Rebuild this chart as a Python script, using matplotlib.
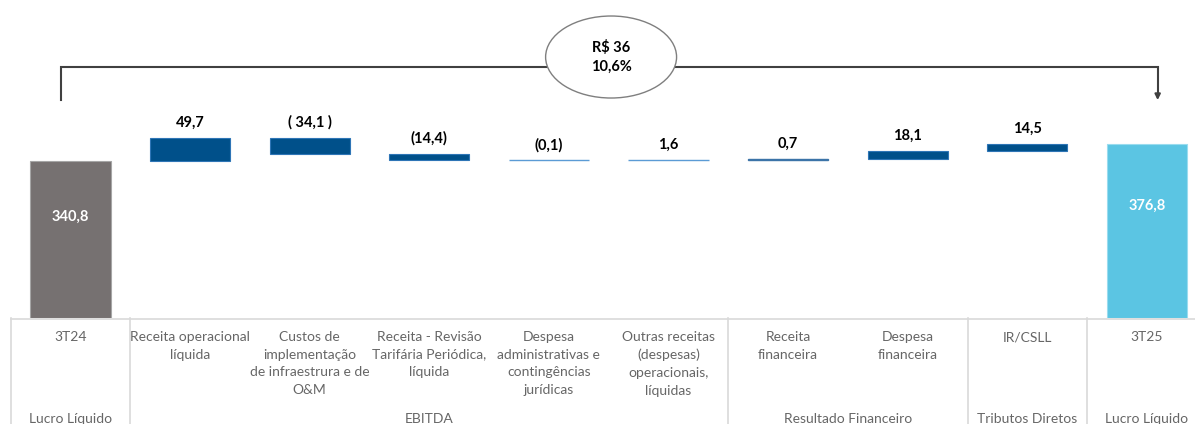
import matplotlib
matplotlib.use("Agg")
import matplotlib.pyplot as plt
from matplotlib.patches import Ellipse
import numpy as np

plt.rcParams['font.family'] = ['Lato', 'DejaVu Sans']

# ------------------------------------------------------------
# Data
categories = ["3T24",
              "Receita operacional\nlíquida",
              "Custos de\nimplementação\nde infraestrura e de\nO&M",
              "Receita - Revisão\nTarifária Periódica,\nlíquida",
              "Despesa\nadministrativas e\ncontingências\njurídicas",
              "Outras receitas\n(despesas)\noperacionais,\nlíquidas",
              "Receita\nfinanceira",
              "Despesa\nfinanceira",
              "IR/CSLL",
              "3T25"]
start_value = 340.8
deltas = [49.7, -34.1, -14.4, -0.1, 1.6, 0.7, 18.1, 14.5]
end_value = 376.8
delta_labels = ["49,7", "( 34,1 )", "(14,4)", "(0,1)", "1,6", "0,7", "18,1", "14,5"]
total_labels = ["340,8", "376,8"]
groups = [("Lucro Líquido", 0, 0), ("EBITDA", 1, 5), ("Resultado Financeiro", 6, 7),
          ("Tributos Diretos", 8, 8), ("Lucro Líquido", 9, 9)]
bubble_text = "R$ 36\n10,6%"

# colours
c_start = "#767171"
c_end = "#5BC5E3"
c_delta = "#00508A"
c_small = "#5B9BD5"

# ------------------------------------------------------------
W, H = 1195, 424
fig = plt.figure(figsize=(W / 100, H / 100), dpi=100)
base_px = 106            # baseline height above bottom of figure (px)
px_per_unit = 0.4607
x0_px, step_px = 70.5, 119.6
xlim = (-x0_px / step_px, (W - x0_px) / step_px)

ax = fig.add_axes([0, base_px / H, 1, 1 - base_px / H])
ax.set_xlim(xlim)
ax.set_ylim(0, (H - base_px) / px_per_unit)
ax.axis("off")

x = np.arange(len(categories))
# waterfall bottoms
cum = start_value + np.concatenate([[0], np.cumsum(deltas)])
bottoms = np.minimum(cum[:-1], cum[1:])
heights = np.abs(deltas)

ax.bar(x[0], start_value, width=0.67, color=c_start, edgecolor="#A6A6A6", linewidth=0.8)
ax.bar(x[-1], end_value, width=0.67, color=c_end, edgecolor="#9ADCEF", linewidth=0.8)
for i, (b, h, d) in enumerate(zip(bottoms, heights, deltas)):
    if abs(d) < 1:
        ax.bar(x[i + 1], h, bottom=b, width=0.67, color="#3C74A8", edgecolor="#3C74A8", linewidth=1.0)
    elif abs(d) < 5:
        ax.bar(x[i + 1], h, bottom=b, width=0.67, color=c_small, edgecolor=c_small, linewidth=1.0)
    else:
        ax.bar(x[i + 1], h, bottom=b, width=0.67, color=c_delta, edgecolor="#2E75B6", linewidth=0.8)
    ax.annotate(delta_labels[i], (x[i + 1], b + h), xytext=(0, 6), textcoords="offset points",
                ha="center", va="bottom", fontsize=10.5, fontweight="bold", color="black")
# the (0,1) bar is negative: colour it like the light line
ax.patches[2 + 3].set_color(c_small)

# totals labels inside bars
for xi, v, lab in zip([x[0], x[-1]], [start_value, end_value], total_labels):
    ax.text(xi, v * 0.645, lab, ha="center", va="center", fontsize=10.5,
            fontweight="bold", color="white")

# bracket with arrow
y_lo, y_hi = 473, 545
xl, xr = x[0] - 0.08, x[-1] + 0.09
ax.plot([xl, xl, xr, xr], [y_lo, y_hi, y_hi, y_lo + 12], color="#404040", lw=1.5,
        solid_joinstyle="miter", zorder=2)
ax.annotate("", xy=(xr, y_lo), xytext=(xr, y_lo + 14),
            arrowprops=dict(arrowstyle="-|>", color="#404040", lw=1.5,
                            mutation_scale=8, shrinkA=0, shrinkB=0))
ell = Ellipse((4.52, 566.5), width=1.095, height=178, facecolor="white",
              edgecolor="#7F7F7F", lw=1.0, zorder=3)
ax.add_patch(ell)
ax.text(4.52, 566.5, bubble_text, ha="center", va="center", fontsize=10.5,
        fontweight="bold", color="black", linespacing=1.5, zorder=4)

# ------------------------------------------------------------
# table below the bars (y in px below the baseline)
tab = fig.add_axes([0, 0, 1, base_px / H])
tab.set_xlim(xlim)
tab.set_ylim(base_px, 0)
tab.axis("off")
grid_c = "#D9D9D9"
tab.plot([-0.5, xlim[1]], [0.5, 0.5], color=grid_c, lw=1.2, clip_on=False)
edges = [-0.5] + [g[2] + 0.5 for g in groups[:-1]]
for e in edges:
    tab.plot([e, e], [0, base_px], color=grid_c, lw=1.2, clip_on=False)
for xi, lab in zip(x, categories):
    tab.text(xi, 13, lab, ha="center", va="top", fontsize=10, color="#666666",
             linespacing=1.56)
for name, a, b in groups:
    tab.text((a + b) / 2, 101, name, ha="center", va="center", fontsize=10,
             color="#666666", clip_on=False)

fig.savefig("out.png", dpi=100)
